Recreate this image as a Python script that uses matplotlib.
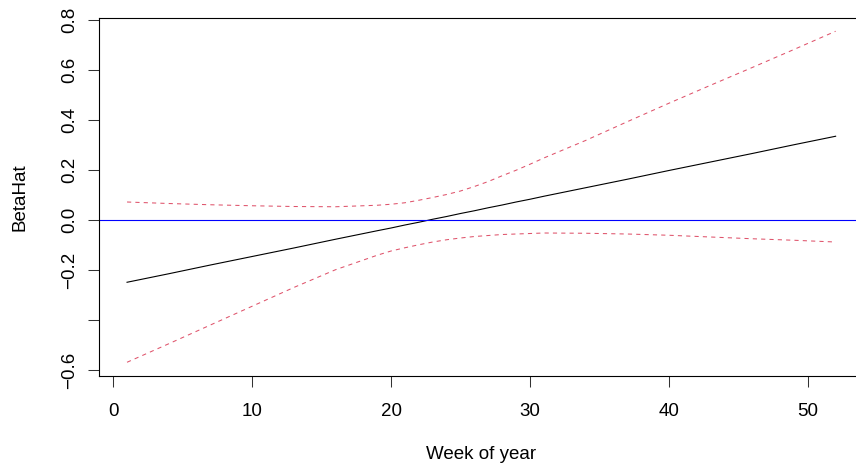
import matplotlib.pyplot as plt

plt.rcParams['font.family'] = ['Liberation Sans', 'DejaVu Sans']

weeks = [1, 4, 7, 10, 13, 16, 19, 20, 21, 22, 23, 24, 25, 26, 27, 28, 29, 30, 31,
         34, 37, 40, 43, 46, 49, 52]
beta_hat = [-0.248, -0.214, -0.179, -0.145, -0.111, -0.076, -0.042, -0.031, -0.019,
            -0.008, 0.004, 0.015, 0.027, 0.038, 0.050, 0.061, 0.073, 0.084, 0.096,
            0.130, 0.164, 0.199, 0.233, 0.267, 0.302, 0.336]
upper = [0.073, 0.067, 0.062, 0.058, 0.055, 0.054, 0.060, 0.064, 0.070, 0.080,
         0.091, 0.103, 0.117, 0.135, 0.155, 0.178, 0.200, 0.224, 0.249,
         0.319, 0.394, 0.468, 0.540, 0.611, 0.683, 0.756]
lower = [-0.568, -0.494, -0.419, -0.344, -0.269, -0.198, -0.140, -0.123, -0.110,
         -0.098, -0.087, -0.078, -0.071, -0.065, -0.061, -0.057, -0.055, -0.053,
         -0.051, -0.052, -0.055, -0.060, -0.067, -0.074, -0.080, -0.087]

x_ticks = [0, 10, 20, 30, 40, 50]
y_ticks = [-0.6, -0.4, -0.2, 0.0, 0.2, 0.4, 0.6, 0.8]
y_labels = ['\u22120.6', '', '\u22120.2', '0.0', '0.2', '0.4', '0.6', '0.8']

fig = plt.figure(figsize=(8.56, 4.72), dpi=100)
ax = fig.add_axes([0.1153, 0.2044, 0.894, 0.7575])

ax.plot(weeks, beta_hat, color='black', lw=0.8)
ax.plot(weeks, upper, color='#DF536B', lw=0.75, dashes=(4, 4))
ax.plot(weeks, lower, color='#DF536B', lw=0.75, dashes=(4, 4))
ax.axhline(0, color='blue', lw=0.8)

ax.set_xlim(-1.04, 54.04)
ax.set_ylim(-0.621, 0.809)

ax.set_xticks(x_ticks)
ax.set_xticklabels([str(t) for t in x_ticks])
ax.set_yticks(y_ticks)
ax.set_yticklabels(y_labels, rotation=90, va='center')

ax.tick_params(axis='both', length=8, width=0.75, labelsize=13.5, color='#333333')
ax.tick_params(axis='x', pad=11.5)
ax.tick_params(axis='y', pad=7)

for s in ax.spines.values():
    s.set_linewidth(0.8)

ax.set_xlabel('Week of year', fontsize=13.5, labelpad=19)
ax.set_ylabel('BetaHat', fontsize=13.5, labelpad=23)

fig.savefig('out.png', dpi=100)
